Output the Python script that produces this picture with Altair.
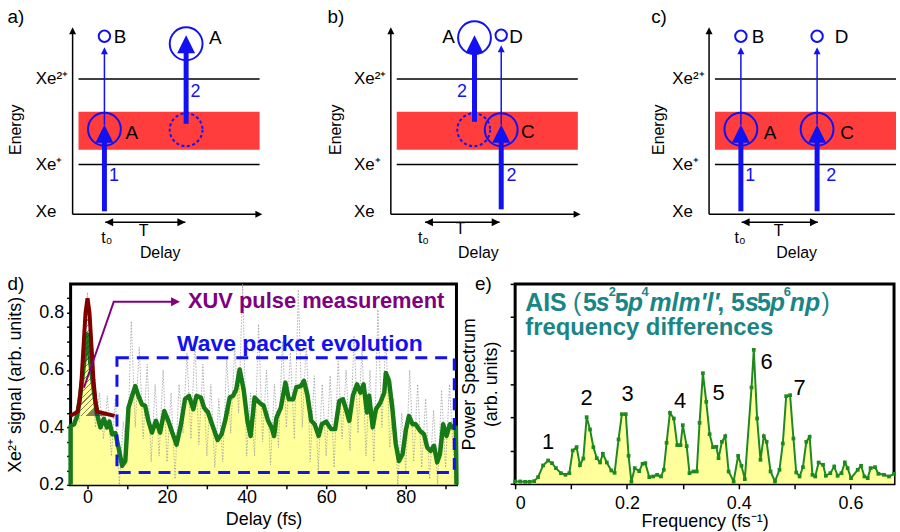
import altair as alt
import pandas as pd

FONT = "Liberation Sans"
BLUE = "#1111f2"
BAND_RED = "#ff3d3d"
PALE_YELLOW = "#ffff9c"
GREEN_SIGNAL = "#167a16"
GREEN_SPECTRUM = "#1e8a1e"
DARK_RED = "#800000"
PURPLE = "#800080"
TEAL = "#198585"

# arrow-head symbols with the tip at the anchor point
UP_HEAD = "M0,0L1,2L-1,2Z"
LEFT_HEAD = "M0,0L2,-1L2,1Z"
RIGHT_HEAD = "M0,0L-2,-1L-2,1Z"

# ---------------------------------------------------------------------------
# Energy-level schematics a) b) c)
# energy E in units of the Xe -> Xe+ gap, delay u in units of the delay T (t0 = 0)
# ---------------------------------------------------------------------------
E_RANGE = [-0.94, 4.26]
U_START = -1.3165
SCHEME_PX_PER_U = 79
SCHEME_WIDTH = 900
PANEL_PITCH = 320          # horizontal pitch of the three schematics (px)
AXIS_U = -0.405
AXIS_TOP_E = 3.76
TIME_AXIS_END_U = 2.01
LEVEL_SPAN_U = [-0.33, 1.975]
LEVEL_E = [1.0, 2.72]
LEVEL_LABELS = ["Xe", "Xe⁺", "Xe²⁺"]
LEVEL_LABEL_E = [0.04, 1.0, 2.72]
LEVEL_LABEL_U = -0.873
BAND_E = [1.30, 2.06]
DELAY_ARROW_E = -0.16

# panel a
A_THICK_U = [0.0, 1.04]
A_THICK_FROM = [0.06, 1.82]
A_THICK_TIP = [1.80, 3.60]
A_THIN_U = [0.0]
A_THIN_FROM = [1.80]
A_THIN_TIP = [3.36]
A_RING_U = [0.0, 1.04]
A_RING_E = [1.71, 3.43]
A_DASHED_U = [1.04]
A_DASHED_E = [1.70]
A_DOT_U = [0.0]
A_DOT_E = [3.58]
A_STATES = ["B", "A", "A"]
A_STATE_U = [0.20, 1.41, 0.35]
A_STATE_E = [3.56, 3.54, 1.63]
A_PULSES = ["1", "2"]
A_PULSE_U = [0.12, 1.16]
A_PULSE_E = [0.76, 2.46]
A_DELAY_U = [0.01, 1.03]

# panel b
B_THICK_U = [1.0, 0.66]
B_THICK_FROM = [0.10, 1.86]
B_THICK_TIP = [1.80, 3.60]
B_THIN_U = [1.0]
B_THIN_FROM = [1.80]
B_THIN_TIP = [3.40]
B_RING_U = [1.0, 0.66]
B_RING_E = [1.70, 3.55]
B_DASHED_U = [0.65]
B_DASHED_E = [1.70]
B_DOT_U = [1.0]
B_DOT_E = [3.60]
B_STATES = ["A", "D", "C"]
B_STATE_U = [0.33, 1.19, 1.34]
B_STATE_E = [3.56, 3.56, 1.66]
B_PULSES = ["2", "2"]
B_PULSE_U = [0.50, 1.13]
B_PULSE_E = [2.46, 0.76]
B_DELAY_U = [0.03, 0.98]

# panel c
C_THICK_U = [0.0, 0.97]
C_THICK_FROM = [0.06, 0.06]
C_THICK_TIP = [1.80, 1.80]
C_THIN_U = [0.0, 0.97]
C_THIN_FROM = [1.80, 1.80]
C_THIN_TIP = [3.36, 3.36]
C_RING_U = [0.0, 0.97]
C_RING_E = [1.71, 1.71]
C_DOT_U = [0.0, 0.97]
C_DOT_E = [3.58, 3.58]
C_STATES = ["B", "D", "A", "C"]
C_STATE_U = [0.22, 1.28, 0.37, 1.35]
C_STATE_E = [3.56, 3.56, 1.63, 1.63]
C_PULSES = ["1", "2"]
C_PULSE_U = [0.12, 1.15]
C_PULSE_E = [0.76, 0.76]
C_DELAY_U = [0.01, 0.98]

# ---------------------------------------------------------------------------
# d) Xe2+ yield versus XUV-pump / XUV-probe delay
# ---------------------------------------------------------------------------
SIGNAL_FLOOR = 0.2
PULSE_BASE = 0.44
DELAY_TICKS = [0, 10, 20, 30, 40, 50, 60, 70, 80, 90]
SIGNAL_TICKS = [0.2, 0.25, 0.3, 0.35, 0.4, 0.45, 0.5, 0.55, 0.6, 0.65, 0.7, 0.75, 0.8, 0.85]

SMOOTH_T = [-4.25, -4.25, -3.4, -2.6, -1.75, -0.9, -0.1, 0.75, 1.6, 2.4, 3.25, 4.1, 4.9, 5.5,
            6.2, 7.0, 7.8, 8.7, 9.5, 10.3, 11.2, 12.0, 12.8, 13.7, 14.5, 15.3, 16.2, 17.2,
            18.25, 19.3, 20.3, 21.3, 22.4, 23.5, 24.5, 25.5, 26.6, 27.4, 28.5, 29.3, 30.3,
            31.6, 32.7, 33.7, 34.7, 35.75, 36.6, 37.4, 38.25, 39.3, 40.2, 41.0, 42.0, 43.25,
            44.3, 45.4, 46.25, 46.9, 47.5, 48.6, 49.75, 50.6, 51.7, 52.5, 53.6, 54.4, 55.25,
            56.25, 57.1, 58.1, 58.9, 60.0, 61.25, 62.25, 63.3, 64.2, 65.0, 65.8, 66.7, 67.75,
            68.6, 69.4, 70.25, 70.8, 71.7, 72.5, 73.6, 74.6, 75.0, 75.8, 76.7, 77.5, 78.3,
            79.2, 80.0, 80.8, 81.7, 82.5, 83.6, 84.6, 85.4, 86.25, 87.1, 87.9, 88.6, 89.4,
            90.25, 91.1, 91.7, 92.6, 92.75]
SMOOTH_S = [0.2, 0.405, 0.41, 0.44, 0.52, 0.62, 0.724, 0.62, 0.527, 0.446, 0.40, 0.43, 0.40, 0.42,
            0.376, 0.38, 0.33, 0.266, 0.283, 0.469, 0.51, 0.544, 0.51, 0.48, 0.475, 0.423, 0.382,
            0.423, 0.382, 0.457, 0.423, 0.382, 0.34, 0.411, 0.498, 0.51, 0.463, 0.51, 0.504,
            0.469, 0.452, 0.40, 0.356, 0.376, 0.429, 0.504, 0.51, 0.533, 0.602, 0.527, 0.423,
            0.37, 0.504, 0.486, 0.475, 0.423, 0.40, 0.37, 0.434, 0.469, 0.556, 0.498, 0.498,
            0.54, 0.544, 0.562, 0.515, 0.423, 0.411, 0.37, 0.411, 0.42, 0.394, 0.394, 0.492,
            0.498, 0.463, 0.423, 0.51, 0.55, 0.521, 0.55, 0.452, 0.51, 0.40, 0.463, 0.486,
            0.521, 0.59, 0.562, 0.457, 0.342, 0.283, 0.307, 0.388, 0.44, 0.411, 0.411, 0.388,
            0.376, 0.33, 0.318, 0.336, 0.278, 0.307, 0.411, 0.37, 0.411, 0.40, 0.40, 0.2]

RAW_T = [-4, -3, -2, -1, 0, 1, 2, 3, 4, 5, 6, 7, 8, 9, 10, 11, 12, 13, 14, 15, 16, 17, 18, 19,
         20, 21, 22, 23, 24, 25, 26, 27, 28, 29, 30, 31, 32, 33, 34, 35, 36, 37, 38, 39, 40, 41,
         42, 43, 44, 45, 46, 47, 48, 49, 50, 51, 52, 53, 54, 55, 56, 57, 58, 59, 60, 61, 62, 63,
         64, 65, 66, 67, 68, 69, 70, 71, 72, 73, 74, 75, 76, 77, 78, 79, 80, 81, 82, 83, 84, 85,
         86, 87, 88, 89, 90, 91, 92]
RAW_S = [0.40, 0.45, 0.42, 0.70, 0.87, 0.62, 0.40, 0.52, 0.36, 0.51, 0.30, 0.50, 0.20, 0.42,
         0.30, 0.77, 0.40, 0.68, 0.36, 0.62, 0.28, 0.55, 0.30, 0.60, 0.28, 0.52, 0.22, 0.55,
         0.38, 0.66, 0.36, 0.70, 0.34, 0.62, 0.30, 0.55, 0.26, 0.50, 0.28, 0.64, 0.38, 0.68,
         0.45, 0.90, 0.30, 0.52, 0.30, 0.76, 0.35, 0.60, 0.27, 0.55, 0.33, 0.70, 0.40, 0.66,
         0.36, 0.88, 0.40, 0.70, 0.28, 0.58, 0.25, 0.55, 0.30, 0.58, 0.26, 0.63, 0.36, 0.60,
         0.32, 0.72, 0.38, 0.68, 0.30, 0.60, 0.28, 0.81, 0.40, 0.72, 0.33, 0.50, 0.20, 0.45,
         0.25, 0.60, 0.28, 0.55, 0.26, 0.50, 0.22, 0.46, 0.20, 0.53, 0.26, 0.55, 0.30]

PULSE_T = [-4.25, -2.5, -2.0, -1.5, -1.0, -0.5, 0.0, 0.5, 1.0, 1.5, 2.0, 2.5, 6.8]
PULSE_S = [0.44, 0.455, 0.49, 0.565, 0.682, 0.80, 0.85, 0.80, 0.682, 0.565, 0.49, 0.455, 0.44]

POINTER_T = [-0.9, 6.6, 21.6]
POINTER_S = [0.538, 0.838, 0.838]
POINTER_TIP = (23.25, 0.838)

WINDOW_T = [7.4, 92.2]
WINDOW_S = [0.243, 0.643]

# ---------------------------------------------------------------------------
# e) Fourier power spectrum of the delay scan
# ---------------------------------------------------------------------------
FREQ = [0.0, 0.009, 0.018, 0.026, 0.034, 0.041, 0.050, 0.059, 0.066, 0.073, 0.082, 0.090,
        0.097, 0.103, 0.110, 0.116, 0.122, 0.128, 0.134, 0.140, 0.146, 0.152, 0.157, 0.164,
        0.172, 0.178, 0.185, 0.191, 0.198, 0.203, 0.208, 0.214, 0.222, 0.228, 0.233, 0.240,
        0.247, 0.254, 0.261, 0.266, 0.271, 0.277, 0.284, 0.290, 0.296, 0.300, 0.307, 0.312,
        0.319, 0.325, 0.330, 0.336, 0.342, 0.348, 0.354, 0.360, 0.364, 0.370, 0.376, 0.382,
        0.391, 0.399, 0.405, 0.411, 0.423, 0.427, 0.433, 0.439, 0.445, 0.450, 0.457, 0.465,
        0.473, 0.479, 0.485, 0.492, 0.498, 0.503, 0.509, 0.515, 0.521, 0.527, 0.532, 0.537,
        0.543, 0.551, 0.556, 0.564, 0.571, 0.577, 0.584, 0.590, 0.595, 0.601, 0.613, 0.619,
        0.625, 0.631, 0.636, 0.644, 0.650, 0.660, 0.669, 0.678]
POWER = [0.07, 0.07, 0.06, 0.06, 0.08, 0.20, 0.55, 0.70, 0.62, 0.47, 0.32, 0.27,
         0.32, 1.00, 1.10, 0.56, 0.76, 2.00, 1.63, 1.10, 0.77, 0.64, 0.90, 0.64,
         0.40, 0.33, 1.33, 2.09, 2.09, 0.84, 0.06, 0.47, 0.38, 0.60, 0.62, 0.20,
         0.22, 0.27, 0.22, 0.42, 1.23, 2.13, 1.96, 1.16, 1.16, 1.76, 1.13, 0.32,
         0.37, 0.37, 1.83, 3.32, 2.46, 1.49, 1.10, 1.11, 0.77, 1.26, 1.43, 0.37,
         0.07, 0.84, 0.54, 0.14, 2.89, 4.02, 1.96, 0.72, 1.43, 1.26, 0.37, 0.07,
         0.42, 1.21, 2.63, 2.66, 1.36, 0.34, 0.22, 0.50, 1.26, 1.41, 0.27, 0.22,
         0.64, 0.57, 0.24, 0.32, 0.52, 0.24, 0.32, 0.64, 0.47, 0.17, 0.42, 0.54,
         0.22, 0.17, 0.47, 0.50, 0.30, 0.27, 0.22, 0.30]

PEAK_LABELS = ["1", "2", "3", "4", "5", "6", "7"]
PEAK_LABEL_F = [0.059, 0.128, 0.201, 0.295, 0.364, 0.450, 0.509]
PEAK_LABEL_V = [1.25, 2.57, 2.69, 2.49, 2.73, 3.65, 2.86]

# title "AIS (5s²5p⁴mlm'l', 5s5p⁶np)" set piece by piece (text, offset px, style, weight)
TITLE_PIECES = [("AIS ", 0, "normal", "bold"), ("(", 48, "normal", "normal"),
                ("5", 58, "normal", "bold"), ("s", 71, "italic", "bold"),
                ("5", 90, "normal", "bold"), ("p", 103, "italic", "bold"),
                ("mlm'l'", 125, "italic", "bold"), (", 5", 193, "normal", "bold"),
                ("s", 221, "italic", "bold"), ("5", 233, "normal", "bold"),
                ("p", 246, "italic", "bold"), ("np", 266, "italic", "bold"),
                (")", 298, "normal", "normal")]
TITLE_SUPS = [("2", 84), ("4", 117), ("6", 260)]

# ---------------------------------------------------------------------------
# schematics: one layered chart holding the three panels side by side
# ---------------------------------------------------------------------------
U_MAX = U_START + SCHEME_WIDTH / SCHEME_PX_PER_U
XS = alt.Scale(domain=[U_START, U_MAX], nice=False, zero=False)
YS = alt.Scale(domain=E_RANGE, nice=False, zero=False)
X = alt.X("u:Q", scale=XS, axis=None)
Y = alt.Y("e:Q", scale=YS, axis=None)
TIP = alt.Y("tip:Q", scale=YS, axis=None)


def shifted(values, off):
    return [v + off for v in values]


def scheme_layers(index, thick_u, thick_from, thick_tip, thin_u, thin_from, thin_tip,
                  ring_u, ring_e, dashed_u, dashed_e, dot_u, dot_e,
                  states, state_u, state_e, pulses, pulse_u, pulse_e,
                  delay_u, t0_u, tau_u, tau_e, tag, tag_u, energy_u):
    off = index * PANEL_PITCH / SCHEME_PX_PER_U
    left = LEVEL_SPAN_U[0] + off
    right = min(LEVEL_SPAN_U[1] + off, U_MAX)
    layers = []

    band = pd.DataFrame({"u": [left], "u2": [right], "e": [BAND_E[0]], "e2": [BAND_E[1]]})
    layers.append(alt.Chart(band).mark_rect(color=BAND_RED).encode(x=X, x2="u2", y=Y, y2="e2"))

    levels = pd.DataFrame({"u": [left] * len(LEVEL_E), "u2": [right] * len(LEVEL_E), "e": LEVEL_E})
    layers.append(alt.Chart(levels).mark_rule(color="black", strokeWidth=1.5).encode(x=X, x2="u2", y=Y))

    # energy and delay axes with arrow heads
    ax = AXIS_U + off
    layers.append(alt.Chart(pd.DataFrame({"u": [ax], "e": [0.0], "e2": [AXIS_TOP_E - 0.05]}))
                  .mark_rule(color="black", strokeWidth=1.5).encode(x=X, y=Y, y2="e2"))
    layers.append(alt.Chart(pd.DataFrame({"u": [ax], "u2": [TIME_AXIS_END_U + off - 0.05], "e": [0.0]}))
                  .mark_rule(color="black", strokeWidth=1.5).encode(x=X, x2="u2", y=Y))
    layers.append(alt.Chart(pd.DataFrame({"u": [ax], "e": [AXIS_TOP_E]}))
                  .mark_point(shape=UP_HEAD, size=49, filled=True, color="black", opacity=1).encode(x=X, y=Y))
    if TIME_AXIS_END_U + off < U_MAX:
        layers.append(alt.Chart(pd.DataFrame({"u": [TIME_AXIS_END_U + off], "e": [0.0]}))
                      .mark_point(shape=RIGHT_HEAD, size=49, filled=True, color="black", opacity=1)
                      .encode(x=X, y=Y))

    # delay T between the two pulses
    layers.append(alt.Chart(pd.DataFrame({"u": [delay_u[0] + off], "u2": [delay_u[1] + off],
                                          "e": [DELAY_ARROW_E]}))
                  .mark_rule(color="black", strokeWidth=1.5).encode(x=X, x2="u2", y=Y))
    layers.append(alt.Chart(pd.DataFrame({"u": [delay_u[0] + off], "e": [DELAY_ARROW_E]}))
                  .mark_point(shape=LEFT_HEAD, size=64, filled=True, color="black", opacity=1).encode(x=X, y=Y))
    layers.append(alt.Chart(pd.DataFrame({"u": [delay_u[1] + off], "e": [DELAY_ARROW_E]}))
                  .mark_point(shape=RIGHT_HEAD, size=64, filled=True, color="black", opacity=1).encode(x=X, y=Y))

    # excitation arrows
    thick = pd.DataFrame({"u": shifted(thick_u, off), "e": thick_from, "tip": thick_tip})
    layers.append(alt.Chart(thick).transform_calculate(e2="datum.tip - 0.2")
                  .mark_rule(color=BLUE, strokeWidth=5).encode(x=X, y=Y, y2="e2:Q"))
    layers.append(alt.Chart(thick).mark_point(shape=UP_HEAD, size=324, filled=True, color=BLUE, opacity=1)
                  .encode(x=X, y=TIP))
    thin = pd.DataFrame({"u": shifted(thin_u, off), "e": thin_from, "tip": thin_tip})
    layers.append(alt.Chart(thin).transform_calculate(e2="datum.tip - 0.06")
                  .mark_rule(color=BLUE, strokeWidth=1.5).encode(x=X, y=Y, y2="e2:Q"))
    layers.append(alt.Chart(thin).mark_point(shape=UP_HEAD, size=49, filled=True, color=BLUE, opacity=1)
                  .encode(x=X, y=TIP))

    # populated states
    layers.append(alt.Chart(pd.DataFrame({"u": shifted(ring_u, off), "e": ring_e}))
                  .mark_point(shape="circle", size=1089, filled=False, color=BLUE, strokeWidth=2, opacity=1)
                  .encode(x=X, y=Y))
    if dashed_u:
        layers.append(alt.Chart(pd.DataFrame({"u": shifted(dashed_u, off), "e": dashed_e}))
                      .mark_point(shape="circle", size=1089, filled=False, color=BLUE, strokeWidth=2,
                                  strokeDash=[3, 2.5], opacity=1)
                      .encode(x=X, y=Y))
    layers.append(alt.Chart(pd.DataFrame({"u": shifted(dot_u, off), "e": dot_e}))
                  .mark_point(shape="circle", size=132, filled=False, color=BLUE, strokeWidth=2, opacity=1)
                  .encode(x=X, y=Y))

    # text
    layers.append(alt.Chart(pd.DataFrame({"u": shifted(state_u, off), "e": state_e, "txt": states}))
                  .mark_text(fontSize=19, color="black").encode(x=X, y=Y, text="txt:N"))
    layers.append(alt.Chart(pd.DataFrame({"u": shifted(pulse_u, off), "e": pulse_e, "txt": pulses}))
                  .mark_text(fontSize=18, color=BLUE).encode(x=X, y=Y, text="txt:N"))
    layers.append(alt.Chart(pd.DataFrame({"u": [LEVEL_LABEL_U + off] * 3, "e": LEVEL_LABEL_E,
                                          "txt": LEVEL_LABELS}))
                  .mark_text(fontSize=17, color="black", align="left").encode(x=X, y=Y, text="txt:N"))
    layers.append(alt.Chart(pd.DataFrame({"u": [t0_u + off, tau_u + off, 0.71 + off], "e": [-0.48, tau_e, -0.77],
                                          "txt": ["t₀", "T", "Delay"]}))
                  .mark_text(fontSize=16, color="black").encode(x=X, y=Y, text="txt:N"))
    layers.append(alt.Chart(pd.DataFrame({"u": [tag_u + off], "e": [3.96], "txt": [tag]}))
                  .mark_text(fontSize=19, color="black").encode(x=X, y=Y, text="txt:N"))
    layers.append(alt.Chart(pd.DataFrame({"u": [energy_u + off], "e": [1.70], "txt": ["Energy"]}))
                  .mark_text(fontSize=16, color="black", angle=270).encode(x=X, y=Y, text="txt:N"))
    return layers


scheme = (
    scheme_layers(0, A_THICK_U, A_THICK_FROM, A_THICK_TIP, A_THIN_U, A_THIN_FROM, A_THIN_TIP,
                  A_RING_U, A_RING_E, A_DASHED_U, A_DASHED_E, A_DOT_U, A_DOT_E,
                  A_STATES, A_STATE_U, A_STATE_E, A_PULSES, A_PULSE_U, A_PULSE_E,
                  A_DELAY_U, 0.03, 0.50, -0.34, "a)", -1.127, -1.13)
    + scheme_layers(1, B_THICK_U, B_THICK_FROM, B_THICK_TIP, B_THIN_U, B_THIN_FROM, B_THIN_TIP,
                    B_RING_U, B_RING_E, B_DASHED_U, B_DASHED_E, B_DOT_U, B_DOT_E,
                    B_STATES, B_STATE_U, B_STATE_E, B_PULSES, B_PULSE_U, B_PULSE_E,
                    B_DELAY_U, 0.01, 0.48, -0.30, "b)", -1.105, -1.105)
    + scheme_layers(2, C_THICK_U, C_THICK_FROM, C_THICK_TIP, C_THIN_U, C_THIN_FROM, C_THIN_TIP,
                    C_RING_U, C_RING_E, [], [], C_DOT_U, C_DOT_E,
                    C_STATES, C_STATE_U, C_STATE_E, C_PULSES, C_PULSE_U, C_PULSE_E,
                    C_DELAY_U, -0.01, 0.48, -0.34, "c)", -1.042, -1.04)
)
top_row = alt.layer(*scheme).properties(width=SCHEME_WIDTH, height=260)

# ---------------------------------------------------------------------------
# d) delay scan
# ---------------------------------------------------------------------------
DX = alt.X("t:Q", scale=alt.Scale(domain=[-4.25, 92.75], nice=False, zero=False),
           axis=alt.Axis(values=DELAY_TICKS, labelExpr="datum.value % 20 == 0 ? format(datum.value, 'd') : ''",
                         tickSize=4, labelPadding=0, titlePadding=4, title="Delay (fs)"))
DY = alt.Y("s:Q", scale=alt.Scale(domain=[0.2, 0.9], nice=False, zero=False),
           axis=alt.Axis(values=SIGNAL_TICKS,
                         labelExpr="round(datum.value * 20) % 4 == 0 ? format(datum.value, '.1f') : ''",
                         tickSize=4, labelPadding=3, titlePadding=14, title="Xe²⁺ signal (arb. units)"))

smooth = pd.DataFrame({"t": SMOOTH_T, "s": SMOOTH_S})
smooth["s0"] = SIGNAL_FLOOR
raw = pd.DataFrame({"t": RAW_T, "s": RAW_S})
pulse = pd.DataFrame({"t": PULSE_T, "s": PULSE_S})
pulse["s0"] = PULSE_BASE
pointer = pd.DataFrame({"t": POINTER_T, "s": POINTER_S})

# diagonal hatching of the pulse profile, as a striped gradient fill
N_HATCH = 24
CLEAR = "rgba(0,0,0,0)"
hatch_stops = []
for i in range(N_HATCH):
    a, b = i / N_HATCH, (i + 1) / N_HATCH
    mid = a + 0.8 / N_HATCH
    hatch_stops += [alt.GradientStop(color=CLEAR, offset=a), alt.GradientStop(color=CLEAR, offset=mid),
                    alt.GradientStop(color="#303030", offset=mid), alt.GradientStop(color="#303030", offset=b)]
hatch = alt.LinearGradient(gradient="linear", stops=hatch_stops, x1=0, y1=0, x2=0.37, y2=1)

d_layers = [
    alt.Chart(smooth).mark_area(color=PALE_YELLOW).encode(x=DX, y=DY, y2="s0:Q"),
    alt.Chart(raw).mark_line(color="#9c9c9c", strokeWidth=0.8, strokeDash=[1.5, 1.5], clip=True)
      .encode(x=DX, y=DY),
    alt.Chart(smooth).mark_line(color=GREEN_SIGNAL, strokeWidth=4.5, strokeJoin="round").encode(x=DX, y=DY),
    alt.Chart(pd.DataFrame({"t": [WINDOW_T[0]], "t2": [WINDOW_T[1]], "s": [WINDOW_S[0]], "s2": [WINDOW_S[1]]}))
      .mark_rect(fillOpacity=0, stroke=BLUE, strokeWidth=3, strokeDash=[12, 8])
      .encode(x=DX, x2="t2", y=DY, y2="s2"),
    alt.Chart(pulse).mark_area(color=hatch, opacity=0.6).encode(x=DX, y=DY, y2="s0:Q"),
    alt.Chart(pulse).mark_line(color=DARK_RED, strokeWidth=4).encode(x=DX, y=DY),
    alt.Chart(pointer).mark_line(color=PURPLE, strokeWidth=2).encode(x=DX, y=DY),
    alt.Chart(pd.DataFrame({"t": [POINTER_TIP[0]], "s": [POINTER_TIP[1]]}))
      .mark_point(shape=RIGHT_HEAD, size=81, filled=True, color=PURPLE, opacity=1).encode(x=DX, y=DY),
    alt.Chart(pd.DataFrame({"t": [25.25], "s": [0.84], "txt": ["XUV pulse measurement"]}))
      .mark_text(fontSize=22, fontWeight="bold", color=PURPLE, align="left").encode(x=DX, y=DY, text="txt:N"),
    alt.Chart(pd.DataFrame({"t": [22.5], "s": [0.692], "txt": ["Wave packet evolution"]}))
      .mark_text(fontSize=23, fontWeight="bold", color=BLUE, align="left").encode(x=DX, y=DY, text="txt:N"),
    alt.Chart(pd.DataFrame({"t": [-18.0], "s": [0.898], "txt": ["d)"]}))
      .mark_text(fontSize=19, color="black").encode(x=DX, y=DY, text="txt:N"),
]
panel_d = alt.layer(*d_layers).properties(
    width=388, height=202, view=alt.ViewBackground(stroke="black", strokeWidth=3))

# ---------------------------------------------------------------------------
# e) power spectrum
# ---------------------------------------------------------------------------
EX = alt.X("f:Q", scale=alt.Scale(domain=[0, 0.678], nice=False, zero=False),
           axis=alt.Axis(values=[0, 0.1, 0.2, 0.3, 0.4, 0.5, 0.6],
                         labelExpr="round(datum.value * 10) % 2 == 0 ? (datum.value == 0 ? '0' : format(datum.value, '.1f')) : ''",
                         tickSize=5, labelPadding=6, titlePadding=0, title="Frequency (fs⁻¹)"))
EY = alt.Y("v:Q", scale=alt.Scale(domain=[0, 6], nice=False),
           axis=alt.Axis(values=[0, 1, 2, 3, 4, 5, 6], labels=False, tickSize=5, titlePadding=9,
                         title=["Power Spectrum", "(arb. units)"], titleLineHeight=22))

spectrum = pd.DataFrame({"f": FREQ, "v": POWER})
TITLE_F = 0.018
TITLE_V = [5.19, 4.48]     # baselines of the two title lines
SUP_V = 5.64


def title_piece(txt, v, dx, style, weight, size=25):
    return (alt.Chart(pd.DataFrame({"f": [TITLE_F], "v": [v], "txt": [txt]}))
            .mark_text(fontSize=size, fontWeight=weight, fontStyle=style, color=TEAL,
                       align="left", baseline="alphabetic", dx=dx)
            .encode(x=EX, y=EY, text="txt:N"))


e_layers = [
    alt.Chart(spectrum).mark_area(color=PALE_YELLOW).encode(x=EX, y=EY),
    alt.Chart(spectrum).mark_line(color=GREEN_SPECTRUM, strokeWidth=2,
                                  point=alt.OverlayMarkDef(shape="square", size=14, filled=True,
                                                           color=GREEN_SPECTRUM, opacity=1))
      .encode(x=EX, y=EY),
    alt.Chart(pd.DataFrame({"f": PEAK_LABEL_F, "v": PEAK_LABEL_V, "txt": PEAK_LABELS}))
      .mark_text(fontSize=22, color="black").encode(x=EX, y=EY, text="txt:N"),
]
e_layers += [title_piece(t, TITLE_V[0], dx, st, wt) for t, dx, st, wt in TITLE_PIECES]
e_layers += [title_piece(t, SUP_V, dx, "normal", "bold", 13) for t, dx in TITLE_SUPS]
e_layers += [
    title_piece("frequency differences", TITLE_V[1], 0, "normal", "bold", 24),
    alt.Chart(pd.DataFrame({"f": [-0.057], "v": [5.99], "txt": ["e)"]}))
      .mark_text(fontSize=19, color="black").encode(x=EX, y=EY, text="txt:N"),
]
panel_e = alt.layer(*e_layers).properties(
    width=381, height=201, view=alt.ViewBackground(stroke="black", strokeWidth=3))

spacer = (alt.Chart(pd.DataFrame({"k": [0]})).mark_point(opacity=0)
          .encode(x=alt.value(5), y=alt.value(100)).properties(width=11, height=202))

bottom_row = alt.hconcat(spacer, panel_d, panel_e, spacing=59, bounds="flush")

chart = (alt.vconcat(top_row, bottom_row, spacing=23, bounds="flush")
         .properties(padding=0)
         .configure(font=FONT)
         .configure_view(stroke="transparent")
         .configure_axis(domain=False, grid=False, labelFont=FONT, titleFont=FONT,
                         labelFontSize=18, titleFontSize=18, titleFontWeight="normal",
                         labelColor="black", titleColor="black", tickColor="black", tickWidth=1.5))

chart.save("out.html", embed_options={"renderer": "svg", "actions": False})
